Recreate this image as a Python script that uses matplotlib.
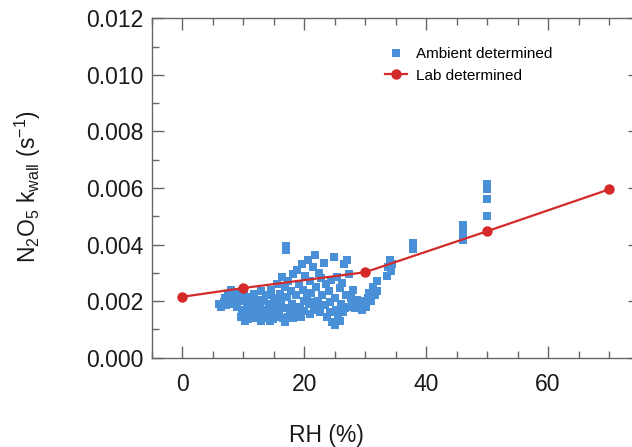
import matplotlib
matplotlib.use("Agg")
import matplotlib.pyplot as plt
from matplotlib.ticker import MultipleLocator, FormatStrFormatter

plt.rcParams["font.family"] = ["Liberation Sans", "DejaVu Sans"]
plt.rcParams["mathtext.default"] = "regular"

BLUE = "#4a90d9"
RED = "#d42a2a"
SPINE = "#666666"
TEXT = "#1a1a1a"

# lab determined wall loss rate vs RH
lab_rh = [0, 10, 30, 50, 70]
lab_k = [0.00215, 0.00246, 0.00302, 0.00447, 0.00595]

# ambient determined points, (RH %, k in 1e-3 s-1)
ambient = [
    (6.0, 1.90), (6.3, 1.78), (6.8, 1.95), (7.0, 2.10), (7.2, 1.85), (7.5, 2.25),
    (7.8, 2.00), (8.0, 2.40), (8.3, 2.15), (8.5, 1.90), (8.8, 2.30), (9.0, 1.80),
    (9.2, 2.05),
    (9.6, 1.45), (9.8, 1.70), (10.0, 2.00), (10.2, 2.30), (10.4, 1.55), (10.6, 1.85),
    (10.8, 1.35), (11.0, 2.15), (11.2, 1.65), (11.4, 1.95), (11.6, 1.40), (11.8, 2.25),
    (12.0, 1.75), (12.2, 1.50), (12.4, 2.05), (12.6, 1.60), (12.8, 1.85), (13.0, 2.35),
    (13.2, 1.40), (13.4, 2.00), (13.6, 1.70), (13.8, 2.20), (14.0, 1.55),
    (10.3, 1.30), (11.5, 1.55), (12.9, 1.30), (13.7, 1.45), (14.9, 1.35), (15.7, 1.50),
    (10.9, 1.60), (12.1, 1.90), (13.3, 1.65), (14.5, 1.80), (15.9, 1.85), (17.3, 1.45),
    (14.2, 1.90), (14.4, 1.30), (14.6, 2.40), (14.8, 1.70), (15.0, 2.10), (15.2, 1.45),
    (15.4, 1.85), (15.6, 2.60), (15.8, 1.60), (16.0, 2.25), (16.2, 1.95), (16.4, 2.85),
    (16.6, 1.40), (16.8, 2.50), (17.0, 1.75), (17.2, 2.15), (17.4, 2.70), (17.6, 1.55),
    (17.8, 2.35), (18.0, 1.90), (18.2, 2.95), (18.4, 1.65), (16.9, 1.25), (18.1, 1.40),
    (18.6, 2.20), (18.8, 3.10), (19.0, 1.50), (19.2, 2.60), (19.4, 1.80), (19.6, 3.30),
    (19.8, 2.40), (20.0, 1.65), (20.2, 2.90), (20.4, 2.10), (20.6, 3.45), (20.8, 1.90),
    (21.0, 2.70), (21.2, 2.30), (21.4, 3.20), (21.6, 1.70), (21.8, 3.62), (22.0, 2.50),
    (22.2, 2.00), (22.4, 3.00), (22.6, 1.60), (22.8, 2.80), (23.0, 2.20), (23.2, 3.35),
    (23.4, 1.85), (19.5, 1.45), (20.9, 1.55), (22.3, 1.75), (19.9, 2.00), (21.3, 1.95),
    (23.6, 2.60), (23.8, 1.45), (24.0, 2.35), (24.2, 1.95), (24.4, 2.75), (24.6, 1.25),
    (24.9, 3.55), (25.0, 2.10), (25.2, 1.70), (25.4, 2.85), (25.6, 1.40), (25.8, 2.45),
    (26.0, 1.90), (26.2, 2.65), (26.4, 1.60), (26.6, 3.30), (26.8, 2.20), (27.0, 3.45),
    (27.2, 1.80), (27.4, 2.95), (27.6, 2.10), (27.8, 1.95), (28.0, 2.40), (28.3, 1.75),
    (28.6, 2.05), (28.9, 1.85), (29.2, 2.00), (29.5, 1.70), (25.0, 1.15), (25.8, 1.30),
    (24.3, 1.60), (26.7, 1.75),
    (29.8, 1.95), (30.1, 1.80), (30.4, 2.10), (30.7, 2.30), (31.0, 2.00), (31.3, 2.50),
    (31.6, 2.20), (31.9, 2.70), (31.9, 2.35),
    (33.6, 2.90), (33.8, 3.20), (34.0, 3.45), (34.2, 3.05), (34.4, 3.30),
    (17.0, 3.80), (17.0, 3.95),
    (37.9, 3.85), (37.9, 4.05),
    (46.0, 4.15), (46.0, 4.35), (46.0, 4.55), (46.0, 4.70),
    (50.0, 5.00), (50.0, 5.60), (50.0, 5.95), (50.0, 6.15),
]
ambient_rh = [p[0] for p in ambient]
ambient_k = [p[1] * 1e-3 for p in ambient]

fig = plt.figure(figsize=(6.32, 4.47), dpi=100)
ax = fig.add_axes([0.240, 0.200, 0.772, 0.759])

ax.plot(ambient_rh, ambient_k, ls="none", marker="s", ms=5.8, mew=0,
        color=BLUE, label="Ambient determined", zorder=2)
ax.plot(lab_rh, lab_k, color=RED, lw=1.6, marker="o", ms=7.5, mew=0,
        label="Lab determined", zorder=3)

ax.set_xlim(-5, 75)
ax.set_ylim(0, 0.012)
ax.xaxis.set_major_locator(MultipleLocator(20))
ax.xaxis.set_minor_locator(MultipleLocator(5))
ax.yaxis.set_major_locator(MultipleLocator(0.002))
ax.yaxis.set_minor_locator(MultipleLocator(0.001))
ax.yaxis.set_major_formatter(FormatStrFormatter("%.3f"))

ax.tick_params(which="both", direction="in", top=True, right=True,
               color=SPINE, width=1.0, labelcolor=TEXT, labelsize=16.5)
ax.tick_params(which="major", length=8.5)
ax.tick_params(which="minor", length=4.8)
ax.tick_params(axis="y", pad=6)
ax.tick_params(axis="x", pad=11)
for s in ax.spines.values():
    s.set_color(SPINE)
    s.set_linewidth(1.0)

ax.set_xlabel("RH (%)", fontsize=16.5, color=TEXT)
ax.set_ylabel(r"N$_2$O$_5$ k$_{wall}$ (s$^{-1}$)", fontsize=16.5, color=TEXT)
ax.xaxis.set_label_coords(0.359, -0.195)
ax.yaxis.set_label_coords(-0.222, 0.503)

ax.legend(loc="upper left", bbox_to_anchor=(0.478, 0.915), frameon=False,
          fontsize=11, numpoints=1, handlelength=1.45, handletextpad=0.6,
          labelspacing=0.5, borderpad=0, borderaxespad=0)

fig.savefig("out.png", dpi=100)
